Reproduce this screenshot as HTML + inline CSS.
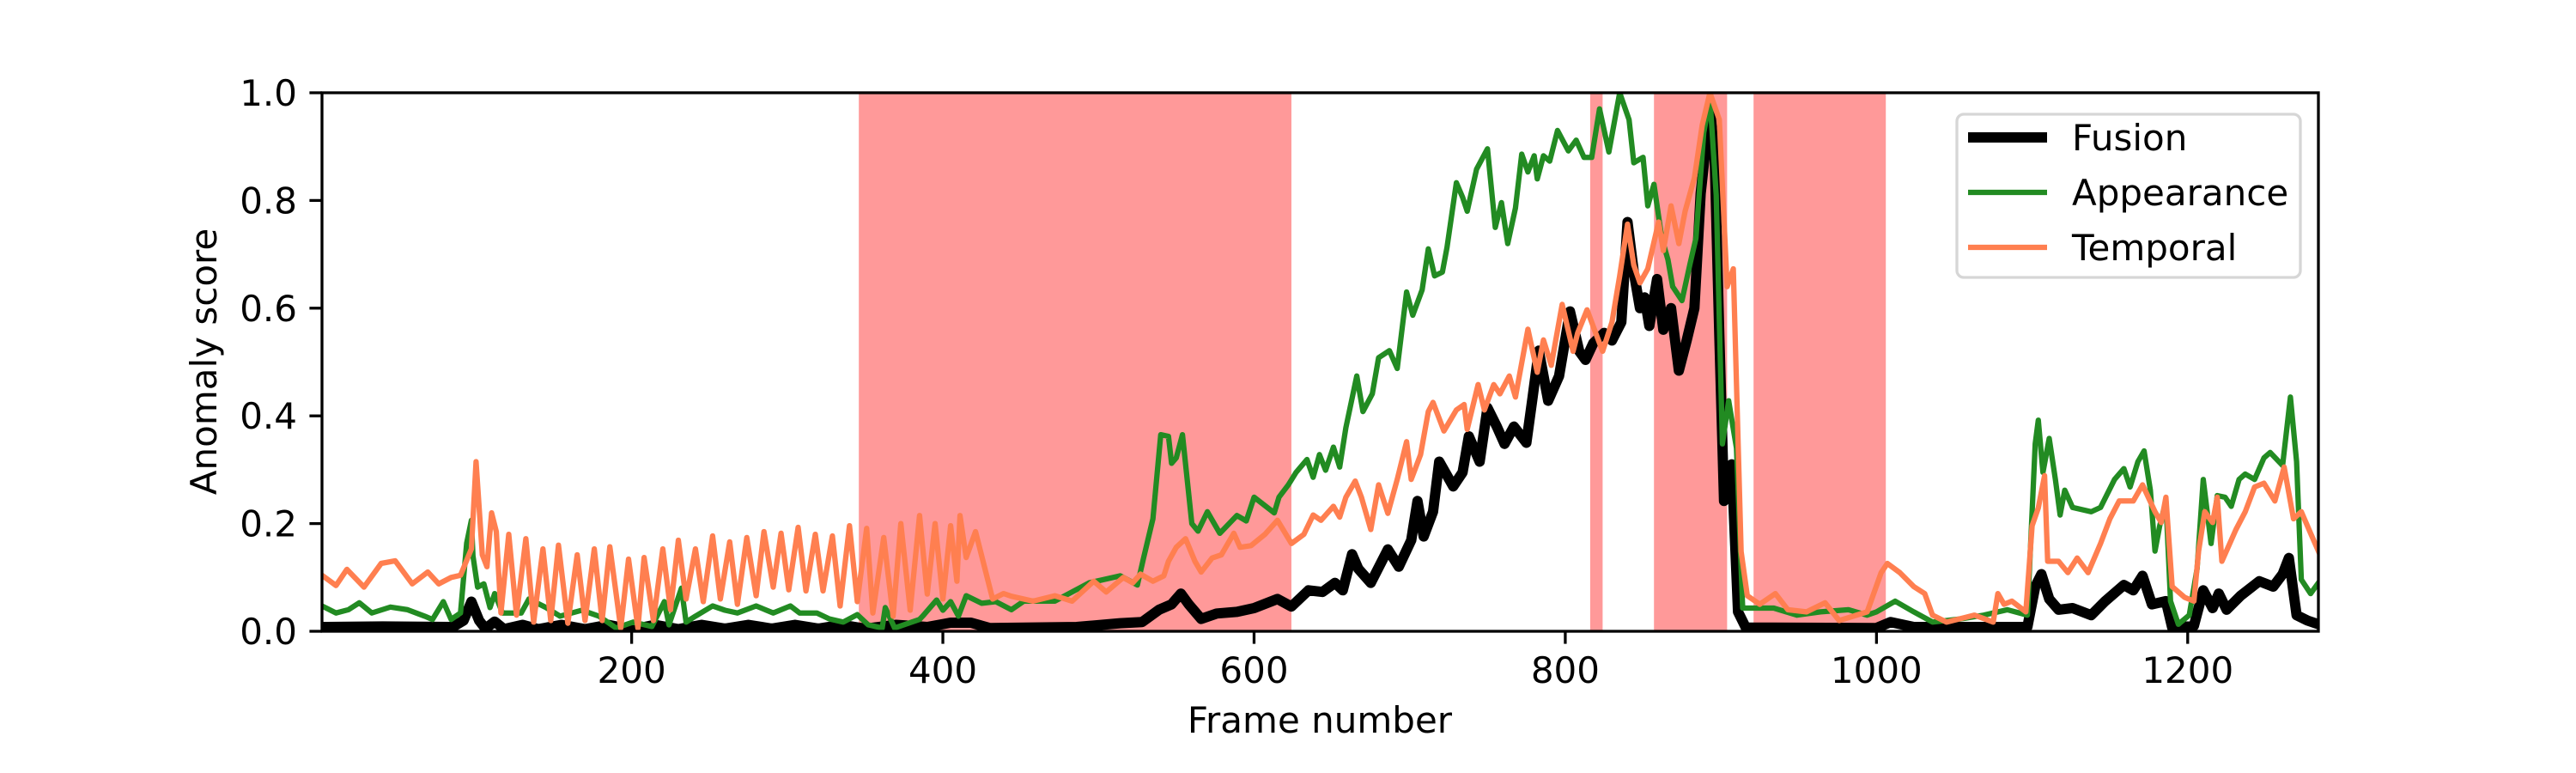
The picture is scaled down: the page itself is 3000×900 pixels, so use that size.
<!DOCTYPE html>
<html><head><meta charset="utf-8"><style>
html,body{margin:0;padding:0;background:#fff;}
svg{display:block;font-family:"DejaVu Sans","Liberation Sans",sans-serif;}
</style></head><body>
<svg id="chart" width="3000" height="900" viewBox="0 0 3000 900" xmlns="http://www.w3.org/2000/svg">
<defs><clipPath id="clip"><rect x="375" y="108" width="2325" height="627"/></clipPath></defs>
<g id="spans" clip-path="url(#clip)"></g>
<g id="lines" clip-path="url(#clip)"></g>
<g id="axes"></g>
<g>
<rect x="2279" y="133" width="400" height="190" rx="8" fill="#fff" fill-opacity="0.8" stroke="#d6d6d6" stroke-width="3.3"/>
<line x1="2292" y1="160" x2="2384" y2="160" stroke="#000" stroke-width="12"/>
<text x="2413" y="175" font-size="42">Fusion</text>
<line x1="2292" y1="224" x2="2384" y2="224" stroke="#228b22" stroke-width="6.25"/>
<text x="2413" y="239" font-size="42">Appearance</text>
<line x1="2292" y1="288" x2="2384" y2="288" stroke="#ff7f50" stroke-width="6.25"/>
<text x="2413" y="303" font-size="42">Temporal</text>
</g>
<text x="1537" y="853" font-size="42" text-anchor="middle">Frame number</text>
<text transform="translate(252,421) rotate(-90)" font-size="42" text-anchor="middle">Anomaly score</text>
</svg>
<script>
const xTicks=[200,400,600,800,1000,1200];
const yTicks=[0,0.2,0.4,0.6,0.8,1.0];
const yTickLabels=["0.0","0.2","0.4","0.6","0.8","1.0"];
const spanStarts=[346,816,857,921];
const spanEnds=[624,824,904,1006];
const fusionX=[1,40,85,92,97,102,106,112,118,130,140,155,170,185,200,215,230,245,260,275,290,305,320,335,350,370,390,405,418,430,486,514,528,539,547,553,558,566,576,589,600,615,624,635,644,652,657,663,667,675,686,693,701,705,709,715,719,728,734,738,745,750,756,761,767,775,779,783,789,796,803,809,813,818,825,830,836,840,844,848,851,854,859,863,868,873,878,883,887,893,896,899,902,907,911,916,1000,1009,1024,1097,1102,1106,1111,1117,1126,1138,1147,1159,1165,1171,1177,1186,1190,1204,1210,1216,1220,1225,1234,1246,1255,1261,1265,1270,1277,1284];
const fusionY=[.008,.009,.008,.02,.055,.02,.005,.018,.004,.012,.004,.012,.004,.012,.003,.012,.004,.012,.005,.012,.005,.012,.005,.012,.005,.012,.008,.016,.016,.006,.008,.015,.017,.04,.05,.07,.05,.023,.033,.036,.043,.06,.046,.076,.073,.09,.076,.143,.116,.09,.152,.12,.169,.242,.176,.222,.315,.269,.295,.362,.315,.415,.38,.348,.38,.35,.435,.521,.428,.474,.594,.52,.504,.535,.554,.54,.574,.76,.667,.6,.62,.567,.654,.56,.6,.484,.54,.6,.813,.972,.88,.55,.242,.31,.036,.007,.006,.017,.008,.008,.083,.106,.06,.04,.043,.03,.056,.086,.076,.103,.05,.056,.007,.01,.076,.043,.07,.04,.066,.093,.083,.106,.136,.03,.02,.013];
const appearanceX=[1,10,18,25,33,45,56,67,72,79,84,90,94,97,98,101,105,109,112,117,129,134,145,154,168,179,190,201,213,221,224,232,235,241,252,260,268,280,291,302,308,319,327,336,345,352,361,363,369,380,385,387,396,400,405,410,415,425,434,444,452,472,494,514,525,529,535,540,545,547,550,554,560,564,570,578,589,595,600,613,616,622,627,634,638,642,646,651,655,659,666,670,676,680,687,692,698,702,708,712,716,721,724,730,734,737,743,750,755,759,763,768,772,776,780,782,786,790,795,802,807,812,817,822,828,835,841,844,850,853,857,862,866,869,875,880,884,889,893,897,901,905,910,914,934,949,964,982,994,1000,1012,1024,1036,1054,1069,1084,1097,1102,1104,1107,1111,1115,1118,1121,1126,1138,1144,1153,1159,1163,1168,1172,1176,1179,1182,1186,1189,1194,1201,1206,1210,1215,1219,1224,1228,1233,1237,1243,1249,1253,1261,1266,1270,1273,1279,1284];
const appearanceY=[.047,.034,.04,.053,.034,.045,.04,.028,.022,.055,.022,.034,.164,.206,.14,.082,.088,.044,.07,.034,.034,.06,.044,.028,.039,.028,.006,.017,.009,.055,.012,.08,.017,.028,.047,.039,.034,.047,.034,.047,.034,.034,.023,.017,.031,.012,.006,.044,.006,.017,.022,.028,.058,.039,.055,.028,.066,.052,.055,.04,.056,.056,.09,.103,.086,.136,.209,.365,.362,.312,.322,.365,.2,.186,.222,.182,.215,.205,.249,.22,.249,.272,.295,.319,.286,.328,.299,.342,.305,.378,.474,.408,.441,.508,.521,.488,.63,.587,.634,.71,.66,.667,.713,.833,.806,.78,.858,.896,.75,.796,.72,.786,.886,.853,.883,.84,.883,.873,.93,.892,.912,.88,.88,.97,.89,1.0,.95,.87,.88,.79,.83,.73,.69,.64,.614,.68,.73,.926,.99,.81,.348,.428,.34,.043,.043,.03,.036,.04,.03,.036,.056,.036,.017,.023,.03,.04,.03,.348,.392,.295,.358,.282,.216,.262,.23,.222,.23,.282,.302,.268,.315,.335,.262,.149,.196,.242,.056,.013,.03,.116,.282,.163,.252,.249,.232,.282,.292,.282,.322,.332,.308,.435,.315,.096,.07,.09];
const temporalX=[1,10,17,28,39,48,59,69,76,84,90,97,100,104,107,110,113,116,121,126,132,137,143,148,153,159,165,170,176,181,186,193,198,204,208,214,220,225,230,235,241,246,252,257,263,268,274,280,285,291,296,301,307,312,318,323,329,334,340,345,351,355,362,368,373,379,385,390,395,400,405,409,411,415,421,432,439,444,458,472,483,497,505,516,522,527,535,542,545,550,556,562,566,573,579,587,591,598,607,615,624,632,638,643,651,655,659,665,669,675,680,686,692,698,701,707,712,715,722,730,735,737,744,748,754,758,764,768,776,782,786,791,798,805,808,814,820,824,830,835,840,844,848,853,860,863,868,873,877,883,888,893,899,904,908,913,917,925,935,943,955,967,976,994,1003,1007,1015,1024,1031,1036,1045,1063,1075,1078,1082,1087,1096,1100,1104,1108,1110,1117,1123,1129,1136,1144,1150,1156,1165,1171,1179,1183,1186,1190,1198,1204,1207,1211,1216,1219,1222,1231,1237,1243,1249,1256,1262,1268,1273,1279,1284];
const temporalY=[.104,.085,.115,.082,.126,.131,.088,.11,.088,.1,.104,.153,.315,.142,.12,.22,.185,.034,.18,.03,.172,.017,.153,.02,.16,.015,.142,.02,.153,.02,.157,.006,.134,.006,.137,.02,.153,.04,.169,.06,.153,.055,.177,.06,.166,.05,.174,.066,.185,.082,.182,.077,.193,.075,.18,.075,.177,.047,.196,.055,.191,.034,.174,.028,.2,.039,.215,.069,.2,.06,.196,.093,.215,.137,.185,.06,.07,.065,.056,.066,.056,.093,.073,.1,.09,.106,.093,.103,.13,.156,.172,.13,.11,.136,.142,.182,.156,.159,.18,.206,.163,.18,.216,.206,.232,.212,.249,.279,.249,.189,.272,.219,.282,.352,.282,.328,.408,.425,.372,.411,.421,.375,.458,.411,.458,.441,.474,.435,.561,.481,.541,.494,.607,.52,.554,.597,.55,.52,.574,.66,.756,.68,.647,.673,.76,.707,.79,.72,.78,.842,.94,1.0,.95,.64,.673,.148,.066,.05,.07,.04,.036,.053,.02,.036,.109,.126,.109,.083,.07,.03,.017,.03,.017,.07,.05,.056,.036,.196,.229,.289,.13,.13,.109,.136,.109,.163,.209,.242,.242,.272,.222,.202,.249,.083,.063,.056,.149,.222,.202,.249,.13,.189,.222,.268,.275,.242,.305,.209,.222,.182,.149];

const NS="http://www.w3.org/2000/svg";
const L=375,R=2700,T=108,B=735,XMIN=1,XMAX=1284;
function sx(v){return L+(v-XMIN)/(XMAX-XMIN)*(R-L);}
function sy(v){return B-v*(B-T);}
function mk(tag,attrs,parent){const e=document.createElementNS(NS,tag);for(const k in attrs)e.setAttribute(k,attrs[k]);parent.appendChild(e);return e;}
const spansG=document.getElementById('spans');
for(let i=0;i<spanStarts.length;i++){
  const r=mk('rect',{x:sx(spanStarts[i]),y:T,width:sx(spanEnds[i])-sx(spanStarts[i]),height:B-T,fill:'#ff9999'},spansG);
  
  
}
const linesG=document.getElementById('lines');
function drawLine(xs,ys,color,w,name){
  let d='';
  for(let i=0;i<xs.length;i++){d+=(i?'L':'M')+sx(xs[i]).toFixed(1)+' '+sy(ys[i]).toFixed(1);}
  const p=mk('path',{d:d,fill:'none',stroke:color,'stroke-width':w,'stroke-linejoin':'round','stroke-linecap':'square'},linesG);
  
  
}
drawLine(fusionX,fusionY,'#000000',12,'fusion-line');
drawLine(appearanceX,appearanceY,'#228b22',6.25,'appearance-line');
drawLine(temporalX,temporalY,'#ff7f50',6.25,'temporal-line');
const axesG=document.getElementById('axes');
const frame=mk('rect',{x:L,y:T,width:R-L,height:B-T,fill:'none',stroke:'#000','stroke-width':3.3},axesG);


for(let i=0;i<xTicks.length;i++){
  const x=sx(xTicks[i]);
  const t=mk('line',{x1:x,y1:B,x2:x,y2:B+14.6,stroke:'#000','stroke-width':3.3},axesG);
  
  
  const lb=mk('text',{x:x,y:B+60,'font-size':42,'text-anchor':'middle'},axesG);
  lb.textContent=String(xTicks[i]);
  
  
}
for(let i=0;i<yTicks.length;i++){
  const y=sy(yTicks[i]);
  const t=mk('line',{x1:L-14.6,y1:y,x2:L,y2:y,stroke:'#000','stroke-width':3.3},axesG);
  
  
  const lb=mk('text',{x:L-29,y:y+15,'font-size':42,'text-anchor':'end'},axesG);
  lb.textContent=yTickLabels[i];
  
  
}
</script>
</body></html>
